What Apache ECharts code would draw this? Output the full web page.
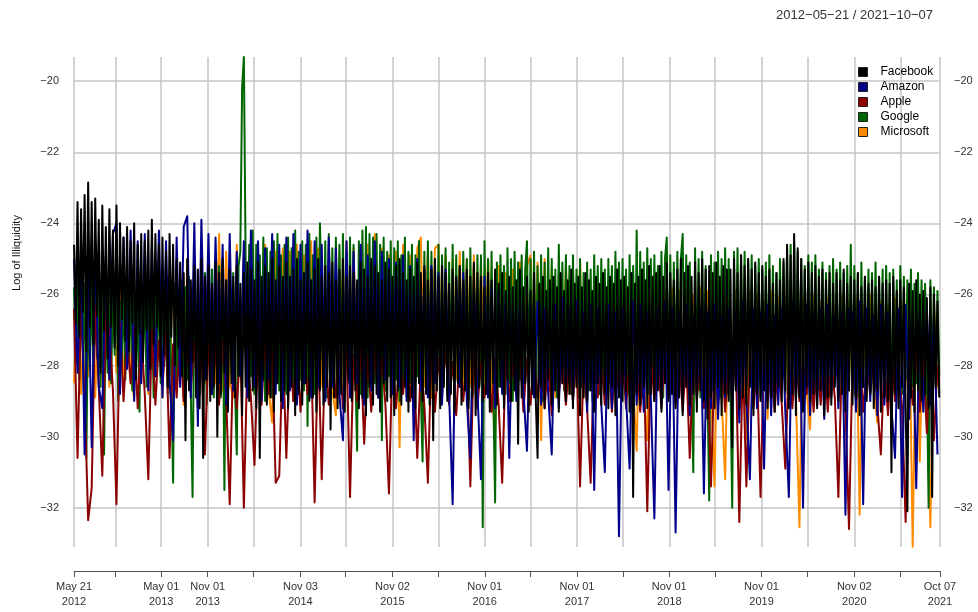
<!DOCTYPE html>
<html>
<head>
<meta charset="utf-8">
<title>Log of Illiquidity</title>
<script src="https://cdn.jsdelivr.net/npm/echarts@6.0.0/dist/echarts.min.js"></script>
<style>
    html, body { margin: 0; padding: 0; background: #fff; }
    #chart { width: 978px; height: 612px; }
</style>
</head>
<body>
<div id="chart"></div>
<script>
// 坐标轴刻度
const tickDates = ['2012-05-21', '2012-11-01', '2013-05-01', '2013-11-01', '2014-05-01', '2014-11-03',
    '2015-05-01', '2015-11-02', '2016-05-02', '2016-11-01', '2017-05-01', '2017-11-01', '2018-05-01',
    '2018-11-01', '2019-05-01', '2019-11-01', '2020-05-01', '2020-11-02', '2021-05-03', '2021-10-07']
const labelDates = ['2012-05-21', '2013-05-01', '2013-11-01', '2014-11-03', '2015-11-02', '2016-11-01',
    '2017-11-01', '2018-11-01', '2019-11-01', '2020-11-02', '2021-10-07']
const yTicks = [-32, -30, -28, -26, -24, -22, -20]
const names = ['Facebook', 'Amazon', 'Apple', 'Google', 'Microsoft']
const colors = ['#000000', '#00008b', '#8b0000', '#006400', '#ff8c00']

// Facebook, 每周一个值
const facebook = [
    -24.6, -26.8, -23.4, -27.2, -23.6, -26.5, -23.2, -27.6, -22.85, -26.9,
    -23.4, -27.4, -23.3, -26.6, -23.9, -28.2, -23.5, -27.0, -24.1, -27.8,
    -23.6, -26.9, -24.2, -27.5, -23.5, -28.0, -24.0, -26.7, -24.4, -27.3,
    -24.1, -27.6, -24.5, -26.8, -24.0, -28.4, -24.6, -27.1, -24.3, -27.9,
    -24.5, -27.0, -24.2, -28.1, -23.9, -27.4, -24.3, -26.9, -24.6, -28.3,
    -24.4, -27.7, -24.8, -28.6, -24.3, -27.2, -24.6, -28.0, -25.0, -27.5,
    -25.1, -28.3, -25.4, -30.1, -25.0, -28.7, -25.6, -27.9, -25.2, -28.9,
    -25.3, -29.2, -25.0, -30.6, -25.5, -28.4, -25.2, -29.0, -25.7, -28.6,
    -25.1, -30.0, -25.4, -28.8, -25.0, -28.2, -25.6, -29.3, -25.3, -28.5,
    -25.5, -28.9, -25.2, -28.3, -25.7, -29.4, -25.4, -28.6, -25.1, -29.0,
    -25.3, -28.7, -25.6, -29.2, -25.1, -30.6, -25.5, -28.4, -25.2, -29.1,
    -25.4, -28.9, -25.0, -29.3, -25.6, -28.5, -25.2, -29.0, -25.5, -28.7,
    -25.1, -29.2, -25.5, -28.6, -25.3, -29.4, -25.0, -28.8, -25.6, -29.1,
    -25.4, -28.5, -25.1, -29.0, -25.6, -28.9, -25.3, -29.3, -25.0, -28.7,
    -25.5, -29.1, -25.2, -28.6, -25.4, -29.8, -25.1, -28.9, -25.6, -29.2,
    -25.3, -28.8, -25.0, -29.3, -25.5, -28.4, -25.2, -29.0, -25.4, -28.7,
    -25.6, -29.2, -25.1, -28.9, -25.3, -29.4, -25.5, -28.6, -25.0, -29.1,
    -25.2, -28.8, -25.4, -29.3, -25.6, -28.5, -25.1, -29.0, -25.3, -28.9,
    -25.5, -29.4, -25.2, -28.7, -25.0, -29.1, -25.4, -28.6, -25.6, -29.3,
    -25.3, -28.9, -25.5, -29.2, -25.1, -28.5, -25.4, -29.0, -25.2, -28.8,
    -25.6, -29.1, -25.3, -30.1, -25.0, -28.7, -25.5, -29.2, -25.2, -28.6,
    -25.4, -29.0, -25.7, -28.8, -25.3, -29.3, -25.5, -28.5, -25.2, -29.1,
    -25.6, -28.7, -25.3, -29.2, -25.5, -28.9, -25.1, -29.4, -25.4, -28.6,
    -25.5, -29.0, -25.8, -28.8, -25.4, -29.3, -25.6, -28.5, -25.3, -29.1,
    -25.7, -28.6, -25.4, -29.2, -25.9, -28.4, -25.5, -29.0, -25.8, -28.7,
    -25.6, -30.2, -25.3, -28.9, -25.8, -28.5, -25.5, -29.3, -25.9, -28.8,
    -25.4, -29.0, -30.6, -25.7, -28.6, -25.5, -29.2, -25.9, -28.4, -25.6,
    -29.1, -25.5, -28.7, -25.8, -29.3, -25.4, -28.5, -25.9, -29.0, -25.6,
    -28.8, -25.3, -29.2, -25.7, -28.6, -25.5, -29.4, -25.8, -28.9, -25.4,
    -29.0, -25.6, -28.7, -25.9, -29.3, -25.5, -28.5, -25.7, -29.1, -25.4,
    -28.8, -25.8, -29.2, -25.5, -28.6, -25.7, -29.4, -25.3, -28.9, -25.6,
    -29.0, -25.5, -28.7, -25.8, -29.3, -25.4, -31.7, -25.7, -28.8, -25.5,
    -29.1, -25.3, -28.6, -25.6, -29.2, -25.2, -28.8, -25.5, -29.0, -25.4,
    -28.7, -25.2, -29.3, -25.5, -28.5, -25.1, -29.0, -25.4, -28.8, -25.6,
    -29.2, -25.3, -28.9, -25.0, -29.4, -25.4, -28.6, -25.2, -29.1, -25.5,
    -28.8, -25.1, -29.3, -25.4, -28.7, -25.0, -29.0, -25.3, -29.5, -25.2,
    -28.9, -25.4, -29.2, -25.1, -28.6, -25.5, -29.4, -25.2, -28.8, -25.3,
    -29.0, -25.3, -30.3, -25.0, -28.7, -25.4, -29.2, -24.9, -28.9, -25.2,
    -29.1, -25.0, -28.6, -25.3, -29.4, -25.1, -28.8, -25.4, -29.0, -25.2,
    -28.7, -25.5, -29.2, -25.3, -28.9, -25.7, -29.3, -25.4, -28.6, -25.6,
    -29.0, -25.0, -28.7, -24.6, -29.2, -24.9, -28.8, -24.3, -29.4, -24.7,
    -28.9, -25.0, -29.3, -25.3, -28.6, -25.1, -29.0, -25.4, -28.8, -25.2,
    -29.2, -25.5, -28.7, -25.3, -29.4, -25.6, -28.9, -25.4, -29.1, -25.7,
    -28.6, -25.4, -29.0, -25.6, -28.8, -25.3, -29.3, -25.7, -28.7, -25.5,
    -29.1, -25.6, -28.9, -25.4, -29.4, -25.8, -28.6, -25.5, -29.0, -25.7,
    -28.8, -25.6, -29.2, -25.8, -28.7, -25.5, -29.3, -25.7, -28.9, -25.6,
    -29.0, -25.7, -31.0, -25.5, -28.8, -25.9, -29.2, -25.6, -28.6, -25.8,
    -29.1, -32.1, -25.7, -28.9, -25.9, -29.3, -25.6, -28.7, -26.0, -29.0,
    -25.9, -28.8, -26.1, -29.2, -25.8, -31.7, -26.0, -28.6, -26.2, -28.9
]

// Google, 每周一个值
const google = [
    -25.8, -27.9, -25.5, -28.4, -26.0, -27.6, -25.7, -30.6, -25.9, -28.1,
    -25.6, -28.3, -26.1, -27.8, -25.8, -28.6, -25.5, -30.5, -26.0, -28.2,
    -25.7, -28.5, -25.9, -27.7, -25.6, -29.0, -26.2, -28.0, -25.8, -28.4,
    -25.9, -27.9, -25.6, -28.7, -26.0, -28.2, -25.7, -29.3, -25.9, -27.8,
    -25.6, -28.6, -25.8, -28.1, -26.1, -28.9, -25.7, -27.9, -25.5, -28.5,
    -25.8, -28.0, -25.6, -28.8, -25.9, -28.3, -31.3, -25.7, -28.6, -25.9,
    -28.2, -25.6, -28.9, -25.8, -28.4, -25.5, -28.7, -31.7, -25.9, -28.1,
    -25.6, -28.8, -25.7, -28.3, -25.4, -29.1, -25.6, -28.5, -25.3, -28.9,
    -25.5, -28.4, -25.2, -28.9, -25.4, -31.5, -25.6, -28.6, -25.3, -28.2,
    -25.4, -28.7, -30.5, -25.2, -24.8, -20.2, -19.32, -25.0, -28.5, -24.6,
    -28.3, -24.2, -28.8, -24.6, -28.1, -24.9, -28.6, -24.4, -29.0, -24.7,
    -28.4, -24.8, -28.9, -24.5, -28.2, -24.3, -28.7, -24.9, -28.5, -24.6,
    -28.8, -24.4, -28.3, -24.7, -29.0, -24.2, -28.6, -24.8, -28.4, -24.5,
    -28.7, -24.6, -29.7, -24.3, -28.5, -24.9, -28.8, -24.4, -28.2, -24.0,
    -24.0, -28.6, -24.5, -28.9, -24.3, -28.4, -24.7, -28.8, -24.4, -28.3,
    -24.6, -28.7, -24.3, -29.0, -24.8, -28.5, -24.4, -28.9, -24.6, -28.2,
    -30.4, -24.5, -28.8, -24.2, -28.4, -24.1, -28.9, -24.3, -28.6, -24.4,
    -28.5, -24.3, -28.9, -24.6, -30.1, -24.4, -28.7, -24.8, -28.3, -24.5,
    -28.8, -24.7, -28.4, -24.5, -29.0, -24.9, -28.6, -24.4, -28.9, -24.8,
    -28.5, -24.6, -28.8, -24.9, -28.3, -24.5, -28.7, -30.7, -24.8, -28.6,
    -24.5, -28.9, -24.8, -28.4, -25.0, -28.7, -24.6, -29.1, -24.9, -28.5,
    -24.7, -28.8, -25.1, -28.3, -24.6, -28.9, -24.9, -28.6, -25.2, -28.4,
    -24.8, -28.7, -25.0, -29.0, -24.7, -28.5, -25.2, -28.8, -24.9, -28.6,
    -24.9, -32.55, -24.5, -28.7, -25.0, -28.4, -24.8, -28.9, -31.85, -25.1,
    -28.6, -24.9, -28.3, -25.2, -28.8, -24.7, -28.5, -25.0, -29.0, -24.8,
    -28.7, -25.1, -28.4, -24.9, -28.9, -25.3, -24.5, -28.6, -25.0, -28.3,
    -24.8, -28.8, -25.2, -28.5, -24.9, -29.0, -25.1, -28.4, -24.7, -28.7,
    -25.0, -28.6, -25.3, -28.9, -24.6, -28.4, -25.1, -28.7, -24.9, -28.5,
    -25.2, -28.8, -24.9, -28.3, -25.3, -28.9, -25.0, -28.6, -25.4, -28.4,
    -25.1, -28.7, -25.3, -29.0, -24.9, -28.5, -25.2, -28.8, -25.0, -28.3,
    -25.3, -28.9, -25.0, -28.4, -25.2, -28.7, -24.8, -28.6, -25.1, -28.9,
    -25.0, -28.5, -25.3, -28.8, -24.9, -28.4, -25.2, -28.7, -24.2, -28.6,
    -24.8, -28.9, -25.1, -28.4, -24.7, -28.8, -25.0, -28.5, -24.9, -28.7,
    -25.2, -28.6, -24.8, -28.9, -25.0, -24.4, -28.5, -24.9, -28.7, -25.1,
    -28.4, -24.8, -28.8, -25.0, -24.3, -28.6, -24.9, -28.3, -25.1, -28.7,
    -31.0, -24.7, -28.5, -25.0, -28.9, -24.8, -28.4, -25.2, -28.6, -31.8,
    -24.9, -28.7, -25.1, -28.4, -24.8, -28.9, -25.0, -28.5, -24.7, -28.8,
    -25.0, -28.6, -32.0, -24.8, -28.4, -24.7, -28.9, -24.9, -28.5, -24.8,
    -28.7, -25.0, -28.4, -24.9, -28.8, -25.2, -28.5, -25.0, -28.9, -25.3,
    -28.6, -25.1, -28.3, -24.9, -28.8, -25.2, -28.5, -25.4, -28.7, -25.0,
    -28.4, -25.1, -28.8, -24.7, -28.5, -24.6, -28.9, -24.5, -28.6, -24.8,
    -28.7, -25.0, -28.4, -25.2, -28.8, -24.9, -28.5, -25.1, -28.6, -24.9,
    -28.9, -25.3, -28.5, -25.1, -28.7, -25.4, -28.4, -25.2, -28.8, -25.0,
    -28.5, -25.3, -28.9, -25.1, -28.6, -25.4, -28.3, -25.2, -28.7, -24.6,
    -28.8, -25.2, -28.4, -25.4, -28.9, -25.1, -28.6, -25.5, -28.5, -25.3,
    -28.7, -25.4, -28.5, -25.1, -28.8, -25.5, -28.4, -25.3, -28.9, -25.2,
    -28.6, -25.4, -29.9, -25.3, -28.7, -25.6, -28.5, -25.2, -28.8, -25.5,
    -28.4, -25.6, -28.9, -25.3, -28.6, -25.7, -28.5, -25.4, -28.8, -25.6,
    -28.7, -25.7, -28.4, -32.0, -25.6, -28.6, -25.8, -28.5, -25.9, -28.3
]

// Amazon, 每两周一个值
const amazon = [
    -25.0, -28.2, -24.8, -30.5, -25.1, -30.3, -24.7, -28.6, -29.2, -24.9,
    -28.4, -24.3, -24.0, -28.8, -24.4, -28.1, -24.2, -29.0, -24.5, -28.5,
    -24.3, -28.7, -24.6, -28.3, -24.2, -28.9, -24.5, -28.4, -30.1, -24.4,
    -28.6, -24.1, -23.8, -28.9, -24.0, -29.7, -23.9, -28.4, -24.3, -28.8,
    -24.4, -28.5, -24.6, -29.1, -24.3, -28.7, -24.8, -28.3, -24.5, -28.9,
    -24.2, -28.6, -24.5, -29.0, -24.7, -28.4, -24.3, -28.8, -24.6, -29.2,
    -24.4, -28.7, -24.3, -29.1, -24.6, -28.5, -24.2, -28.9, -24.5, -28.6,
    -24.6, -29.0, -24.4, -28.6, -24.7, -28.8, -30.1, -24.5, -28.9, -24.8,
    -28.5, -24.6, -29.1, -24.9, -28.7, -24.5, -28.9, -24.8, -28.4, -25.0,
    -28.8, -25.1, -28.6, -24.9, -29.0, -25.2, -30.1, -25.0, -28.7, -25.3,
    -28.9, -25.2, -28.5, -25.4, -29.1, -25.3, -28.8, -31.9, -25.5, -28.6,
    -25.4, -29.0, -30.6, -25.6, -28.7, -31.2, -25.5, -28.9, -25.8, -29.2,
    -25.9, -28.8, -26.0, -30.6, -26.2, -29.0, -26.1, -28.7, -30.4, -26.3,
    -28.9, -26.2, -29.1, -26.4, -28.8, -30.5, -26.3, -29.2, -26.1, -28.7,
    -26.4, -29.0, -26.2, -28.8, -26.5, -29.3, -26.3, -31.5, -26.4, -29.1,
    -31.0, -26.3, -29.2, -26.5, -32.8, -26.4, -28.9, -30.9, -26.2, -29.1,
    -26.3, -29.3, -26.5, -28.9, -32.3, -26.4, -29.1, -26.2, -31.5, -26.4,
    -32.7, -26.5, -29.0, -26.3, -29.4, -26.6, -28.8, -26.4, -31.6, -26.5,
    -29.2, -26.3, -29.5, -26.6, -28.9, -26.4, -29.3, -26.5, -29.6, -26.2,
    -29.0, -31.2, -26.4, -29.2, -26.5, -30.9, -26.3, -29.4, -26.6, -29.1,
    -26.4, -29.3, -31.7, -26.2, -29.0, -26.5, -32.0, -26.3, -29.4, -26.6,
    -29.1, -26.4, -29.5, -26.3, -28.9, -26.6, -29.2, -26.5, -32.2, -26.4,
    -26.5, -29.3, -26.2, -31.9, -26.4, -29.0, -26.6, -29.4, -26.3, -29.1,
    -26.5, -29.2, -30.6, -26.4, -31.7, -26.3, -29.5, -26.6, -31.45, -26.5,
    -29.3, -26.4, -29.1, -26.6, -30.5
]

// Apple, 每两周一个值
const apple = [
    -26.4, -30.6, -26.2, -28.9, -32.35, -31.45, -26.3, -28.6, -31.1, -26.5,
    -27.0, -28.7, -31.9, -26.8, -29.0, -27.2, -28.5, -26.9, -29.2, -27.1,
    -28.8, -31.2, -27.0, -29.1, -27.3, -28.6, -27.1, -30.6, -27.4, -28.9,
    -27.2, -29.0, -27.5, -28.7, -27.3, -29.2, -27.6, -30.5, -27.4, -28.8,
    -27.5, -29.1, -27.3, -28.9, -31.9, -27.6, -29.2, -27.4, -32.0, -27.7,
    -28.9, -30.8, -27.5, -29.1, -27.3, -28.8, -27.6, -31.3, -31.1, -27.4,
    -30.6, -27.6, -29.0, -27.4, -29.3, -27.7, -28.8, -27.5, -31.85, -27.3,
    -31.2, -27.5, -29.1, -27.8, -28.9, -27.6, -29.2, -27.4, -31.7, -27.7,
    -29.0, -27.5, -30.2, -27.7, -29.3, -27.6, -28.9, -27.8, -29.1, -31.6,
    -27.6, -29.2, -27.8, -28.8, -27.5, -29.0, -27.7, -30.6, -27.9, -29.1,
    -31.3, -27.6, -29.3, -27.8, -28.9, -27.5, -29.1, -27.9, -29.4, -27.7,
    -29.0, -27.8, -31.4, -27.6, -29.2, -27.9, -28.9, -27.7, -29.3, -27.8,
    -29.1, -31.3, -27.7, -29.0, -27.9, -28.8, -27.6, -29.3, -27.8, -29.1,
    -27.9, -28.9, -27.6, -29.2, -27.8, -29.4, -27.7, -28.8, -27.9, -29.1,
    -27.8, -29.0, -27.6, -31.4, -27.9, -29.2, -31.3, -27.7, -28.9, -27.8,
    -29.1, -27.6, -29.3, -27.9, -28.8, -27.7, -29.2, -27.8, -29.0, -27.6,
    -29.3, -27.9, -32.1, -27.7, -29.0, -27.8, -29.2, -27.6, -28.9, -27.9,
    -29.1, -27.7, -29.3, -27.8, -30.6, -27.6, -29.0, -27.9, -29.2, -27.7,
    -31.4, -27.8, -29.1, -27.6, -29.3, -27.9, -28.9, -27.7, -32.4, -27.8,
    -31.4, -27.7, -29.2, -27.9, -31.7, -27.6, -29.0, -27.8, -29.3, -27.7,
    -29.1, -30.9, -27.8, -29.2, -27.6, -29.0, -27.9, -28.8, -27.7, -29.3,
    -27.8, -29.1, -27.6, -29.3, -27.9, -28.9, -31.7, -27.7, -29.2, -32.6,
    -27.8, -29.0, -27.6, -29.3, -27.9, -28.8, -27.7, -29.1, -30.5, -27.8,
    -29.4, -27.7, -29.0, -27.9, -29.2, -32.4, -27.8, -29.1, -27.6, -29.3,
    -27.8, -29.9, -27.7, -30.1, -28.0
]

// Microsoft, 每两周一个值
const microsoft = [
    -28.5, -25.9, -28.8, -26.1, -28.3, -25.8, -28.9, -26.0, -28.4, -25.7,
    -28.6, -25.6, -28.2, -25.8, -28.7, -25.5, -28.4, -28.9, -25.7, -28.5,
    -25.4, -28.8, -25.6, -28.3, -25.3, -28.9, -25.5, -28.4, -25.2, -28.7,
    -25.3, -29.1, -25.0, -28.6, -25.2, -28.9, -24.9, -28.5, -25.1, -28.8,
    -28.4, -24.3, -28.7, -24.8, -28.5, -28.9, -24.6, -28.3, -24.9, -28.6,
    -24.7, -28.8, -24.9, -28.4, -24.6, -28.7, -29.6, -24.8, -28.5, -24.7,
    -28.6, -24.8, -28.9, -24.6, -28.4, -24.9, -28.7, -24.5, -28.8, -24.7,
    -28.5, -29.0, -24.6, -28.7, -29.4, -24.8, -28.6, -24.5, -28.9, -24.7,
    -28.4, -24.8, -28.7, -24.6, -28.5, -24.3, -28.8, -24.7, -28.6, -24.9,
    -28.7, -24.8, -30.3, -24.6, -28.5, -24.9, -28.8, -24.7, -24.4, -28.6,
    -24.8, -28.9, -24.7, -24.6, -28.5, -24.9, -28.7, -25.0, -28.4, -24.8,
    -28.8, -25.0, -28.6, -24.9, -28.9, -25.1, -28.5, -25.0, -28.7, -29.9,
    -25.2, -28.6, -25.4, -28.9, -25.3, -28.5, -25.1, -28.8, -25.2, -24.9,
    -28.7, -25.1, -30.1, -25.0, -28.6, -25.3, -28.9, -25.4, -28.5, -25.2,
    -28.8, -25.4, -28.6, -25.1, -28.9, -25.5, -28.4, -25.6, -28.7, -25.5,
    -28.6, -25.7, -28.9, -25.6, -28.5, -25.8, -28.8, -25.7, -28.6, -30.4,
    -25.6, -28.7, -30.1, -25.8, -28.9, -25.7, -28.6, -25.9, -28.8, -25.8,
    -28.5, -25.9, -28.9, -25.7, -28.6, -26.0, -28.8, -25.8, -28.7, -25.9,
    -28.6, -31.4, -25.8, -28.9, -31.2, -26.0, -28.7, -25.9, -28.8, -26.1,
    -30.1, -25.9, -28.7, -26.0, -28.9, -26.2, -29.5, -25.9, -28.6, -26.1,
    -28.8, -26.0, -28.6, -26.2, -28.9, -32.55, -26.1, -28.7, -29.8, -26.0,
    -28.8, -26.2, -28.6, -26.1, -28.9, -26.3, -28.7, -26.0, -28.8, -26.2,
    -28.7, -26.1, -32.2, -26.3, -28.9, -26.0, -28.6, -29.6, -26.2, -28.8,
    -26.3, -28.7, -26.1, -28.9, -26.2, -28.6, -26.4, -33.1, -26.2, -30.7,
    -26.3, -28.8, -32.55, -26.2, -28.6
]

const fontFamily = 'Liberation Sans, Arial, sans-serif'
const monthNames = ['Jan', 'Feb', 'Mar', 'Apr', 'May', 'Jun', 'Jul', 'Aug', 'Sep', 'Oct', 'Nov', 'Dec']

function day(s) {
    const p = s.split('-')
    return new Date(+p[0], +p[1] - 1, +p[2]).getTime()
}

// 从起始日开始，每 step 天一个点
function pairs(values, step) {
    const p = tickDates[0].split('-')
    return values.map(function (v, i) {
        return [new Date(+p[0], +p[1] - 1, +p[2] + i * step).getTime(), v]
    })
}

function dateLabel(value) {
    const d = new Date(value)
    const dd = d.getDate() < 10 ? '0' + d.getDate() : '' + d.getDate()
    return monthNames[d.getMonth()] + ' ' + dd + '\n' + d.getFullYear()
}

function line(name, values, step) {
    const color = colors[names.indexOf(name)]
    return {
        name: name,
        type: 'line',
        data: pairs(values, step),
        symbol: 'none',
        showSymbol: false,
        silent: true,
        itemStyle: { color: color },
        lineStyle: { color: color, width: 2, cap: 'butt', join: 'round' },
        emphasis: { disabled: true },
        z: 2
    }
}

const chart = echarts.init(document.getElementById('chart'))
const option = {
    animation: false,
    backgroundColor: '#ffffff',
    textStyle: { fontFamily: fontFamily },
    title: {
        text: '2012\u221205\u221221 / 2021\u221210\u221207',
        right: 40,
        top: 4,
        textStyle: { fontSize: 13, fontWeight: 'normal', color: '#333', fontFamily: fontFamily }
    },
    legend: {
        data: names,
        orient: 'vertical',
        left: 853,
        top: 61,
        icon: 'rect',
        itemWidth: 9,
        itemHeight: 9,
        itemGap: 3,
        selectedMode: false,
        itemStyle: { borderColor: '#222', borderWidth: 1 },
        textStyle: { fontSize: 12, color: '#000', lineHeight: 12, padding: [0, 0, 0, 8], fontFamily: fontFamily }
    },
    graphic: [{
        type: 'text',
        x: 17,
        y: 253,
        rotation: Math.PI / 2,
        style: {
            text: 'Log of Illiquidity',
            fill: '#111',
            fontSize: 11,
            fontFamily: fontFamily,
            textAlign: 'center',
            textVerticalAlign: 'middle'
        }
    }],
    grid: { left: 74, right: 38, top: 57, bottom: 65 },
    xAxis: {
        type: 'value',
        min: day(tickDates[0]),
        max: day(tickDates[tickDates.length - 1]),
        offset: 24,
        axisLine: { lineStyle: { color: '#555', width: 1 } },
        axisTick: { customValues: tickDates.map(day), length: 6, lineStyle: { color: '#555' } },
        axisLabel: {
            customValues: labelDates.map(day),
            formatter: dateLabel,
            fontSize: 11,
            lineHeight: 15,
            color: '#333',
            margin: 8,
            hideOverlap: false
        },
        splitLine: { show: true, lineStyle: { color: '#c4c4c4', width: 1.5 } }
    },
    yAxis: [
        {
            type: 'value',
            position: 'left',
            min: -33.105,
            max: -19.32,
            axisLine: { show: false },
            axisTick: { show: false, customValues: yTicks },
            axisLabel: {
                customValues: yTicks,
                formatter: function (v) { return '\u2212' + Math.abs(v) },
                fontSize: 11,
                color: '#333',
                margin: 15
            },
            splitLine: { show: true, lineStyle: { color: '#c4c4c4', width: 1.5 } }
        },
        {
            type: 'value',
            position: 'right',
            min: -33.105,
            max: -19.32,
            axisLine: { show: false },
            axisTick: { show: false, customValues: yTicks },
            axisLabel: {
                customValues: yTicks,
                formatter: function (v) { return '\u2212' + Math.abs(v) },
                fontSize: 11,
                color: '#333',
                margin: 14
            },
            splitLine: { show: false }
        }
    ],
    // 后画的在上面：Facebook 最后画
    series: [
        line('Microsoft', microsoft, 14),
        line('Google', google, 7),
        line('Apple', apple, 14),
        line('Amazon', amazon, 14),
        line('Facebook', facebook, 7)
    ]
}
chart.setOption(option)
</script>
</body>
</html>
